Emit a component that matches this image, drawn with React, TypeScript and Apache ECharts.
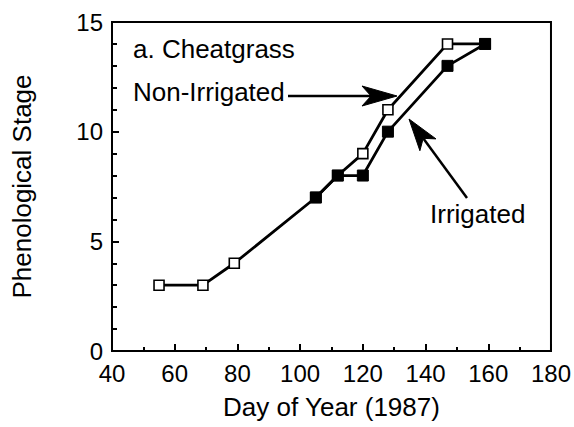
import React, { useEffect, useRef } from "react";
import * as echarts from "echarts";

const nonIrrigatedDays = [55, 69, 79, 105, 112, 120, 128, 147, 159];
const nonIrrigatedStage = [3, 3, 4, 7, 8, 9, 11, 14, 14];
const irrigatedDays = [105, 112, 120, 128, 147, 159];
const irrigatedStage = [7, 8, 8, 10, 13, 14];

const FONT = "'Liberation Sans', Arial, Helvetica, sans-serif";

function arrow(tip: [number, number], tail: [number, number], len: number, half: number, notch: number) {
  const dx = tip[0] - tail[0];
  const dy = tip[1] - tail[1];
  const L = Math.hypot(dx, dy);
  const ux = dx / L, uy = dy / L;
  const px = -uy, py = ux;
  const bx = tip[0] - len * ux, by = tip[1] - len * uy;
  const nx = tip[0] - notch * ux, ny = tip[1] - notch * uy;
  return [
    {
      type: "polyline",
      shape: { points: [tail, [nx, ny]] },
      style: { stroke: "#000", lineWidth: 2.5, fill: "none" },
      z: 100,
    },
    {
      type: "polygon",
      shape: {
        points: [tip, [bx + half * px, by + half * py], [nx, ny], [bx - half * px, by - half * py]],
      },
      style: { fill: "#000", stroke: "#000", lineWidth: 1 },
      z: 100,
    },
  ];
}

export default function App() {
  const ref = useRef<HTMLDivElement>(null);
  useEffect(() => {
    if (!ref.current) return;
    const chart = echarts.init(ref.current, null, { renderer: "svg" });
    const nonData = nonIrrigatedDays.map((d, i) => [d, nonIrrigatedStage[i]]);
    const irrData = irrigatedDays.map((d, i) => [d, irrigatedStage[i]]);
    chart.setOption({
      animation: false,
      backgroundColor: "#fff",
      grid: {
        left: 112,
        right: 18,
        top: 22,
        bottom: 76,
        show: true,
        borderColor: "#000",
        borderWidth: 2,
        backgroundColor: "transparent",
      },
      xAxis: {
        type: "value",
        min: 40,
        max: 180,
        interval: 20,
        name: "Day of Year (1987)",
        nameLocation: "middle",
        nameGap: 43,
        nameTextStyle: { fontFamily: FONT, fontSize: 26, color: "#000" },
        axisLine: { show: true, lineStyle: { color: "#000", width: 2 } },
        axisTick: { show: true, inside: true, length: 7, lineStyle: { color: "#000", width: 2 } },
        minorTick: { show: true, splitNumber: 2, length: 4, lineStyle: { color: "#000", width: 2 } },
        axisLabel: { fontFamily: FONT, fontSize: 24, color: "#000", margin: 10 },
        splitLine: { show: false },
      },
      yAxis: {
        type: "value",
        min: 0,
        max: 15,
        interval: 5,
        name: "Phenological Stage",
        nameLocation: "middle",
        nameGap: 77,
        nameTextStyle: { fontFamily: FONT, fontSize: 26, color: "#000" },
        axisLine: { show: true, lineStyle: { color: "#000", width: 2 } },
        axisTick: { show: true, inside: true, length: 7, lineStyle: { color: "#000", width: 2 } },
        minorTick: { show: true, splitNumber: 5, length: 5, lineStyle: { color: "#000", width: 2 } },
        axisLabel: { fontFamily: FONT, fontSize: 24, color: "#000", margin: 9 },
        splitLine: { show: false },
      },
      series: [
        {
          name: "Non-Irrigated",
          type: "line",
          data: nonData,
          symbol: "rect",
          symbolSize: 10,
          lineStyle: { color: "#000", width: 2.8 },
          itemStyle: { color: "#fff", borderColor: "#000", borderWidth: 1.6 },
          z: 2,
        },
        {
          name: "Irrigated",
          type: "line",
          data: irrData,
          symbol: "rect",
          symbolSize: 11,
          lineStyle: { color: "#000", width: 2.8 },
          itemStyle: { color: "#000", borderColor: "#000", borderWidth: 1 },
          z: 3,
        },
      ],
      graphic: [
        {
          type: "text",
          left: 133,
          top: 36,
          style: { text: "a. Cheatgrass", font: `26px ${FONT}`, fill: "#000" },
        },
        {
          type: "text",
          left: 133,
          top: 79,
          style: { text: "Non-Irrigated", font: `26px ${FONT}`, fill: "#000" },
        },
        {
          type: "text",
          left: 430,
          top: 201,
          style: { text: "Irrigated", font: `26px ${FONT}`, fill: "#000" },
        },
        ...arrow([397, 96], [288, 96], 35, 10, 26),
        ...arrow([409, 119], [467, 198], 32, 10, 24),
      ],
    });
    return () => chart.dispose();
  }, []);
  return (
    <div
      ref={ref}
      style={{ position: "fixed", left: 0, top: 0, width: 574, height: 427, background: "#fff" }}
    />
  );
}
